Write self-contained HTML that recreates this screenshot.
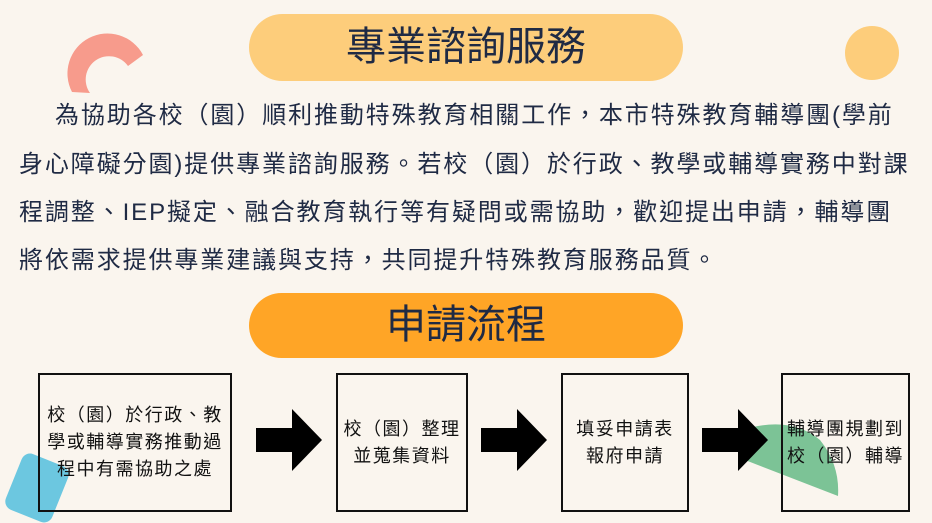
<!DOCTYPE html>
<html><head><meta charset="utf-8"><style>
*{margin:0;padding:0;box-sizing:border-box}
body{width:932px;height:523px;background:#faf5ee;position:relative;overflow:hidden;font-family:"Liberation Sans","Noto Sans CJK TC",sans-serif;color:#1f2a44}
.a{position:absolute}
.pill{position:absolute;left:249px;width:434px;border-radius:34px;text-align:center;font-size:40px;color:#1f2a44}
.p{position:absolute;white-space:nowrap;font-size:24px;letter-spacing:1.9px;color:#1f2a44}
.box{position:absolute;border:2px solid #111;display:flex;align-items:center;justify-content:center;text-align:center;font-size:18px;letter-spacing:1.5px;line-height:27px;color:#111;top:373px;height:139px}
</style></head><body>
<svg class="a" style="left:0;top:0" width="932" height="523">
<path d="M72 92 A40 40 0 0 1 143 55 L128 66 A22 22 0 0 0 90 93 Z" fill="#f79b8c"/>
<circle cx="872" cy="53" r="27" fill="#fdcd7b"/>
<rect x="12" y="458" width="50" height="60" rx="9" fill="#6cc7e0" transform="rotate(22 37 488)"/>
<path d="M742 430 Q790 415 820 440 Q840 465 838 496 L745 460 Z" fill="#7cc396"/>
<g fill="#000">
<path d="M256 428h36v-19l30 31-30 31v-19h-36z"/>
<path d="M481 428h36v-19l30 31-30 31v-19h-36z"/>
<path d="M702 428h36v-19l30 31-30 31v-19h-36z"/>
</g>
</svg>
<div class="pill" style="top:14px;height:67px;line-height:67px;background:#fdcd7b">專業諮詢服務</div>
<div class="p" style="left:55px;top:95px">為協助各校（園）順利推動特殊教育相關工作，本市特殊教育輔導團(學前</div>
<div class="p" style="left:19px;top:144px">身心障礙分園)提供專業諮詢服務。若校（園）於行政、教學或輔導實務中對課</div>
<div class="p" style="left:19px;top:192px">程調整、IEP擬定、融合教育執行等有疑問或需協助，歡迎提出申請，輔導團</div>
<div class="p" style="left:19px;top:240px">將依需求提供專業建議與支持，共同提升特殊教育服務品質。</div>
<div class="pill" style="top:293px;height:65px;line-height:65px;background:#ffa526">申請流程</div>
<div class="box" style="left:38px;width:194px">校（園）於行政、教<br>學或輔導實務推動過<br>程中有需協助之處</div>
<div class="box" style="left:336px;width:132px">校（園）整理<br>並蒐集資料</div>
<div class="box" style="left:561px;width:128px">填妥申請表<br>報府申請</div>
<div class="box" style="left:781px;width:129px">輔導團規劃到<br>校（園）輔導</div>
</body></html>
